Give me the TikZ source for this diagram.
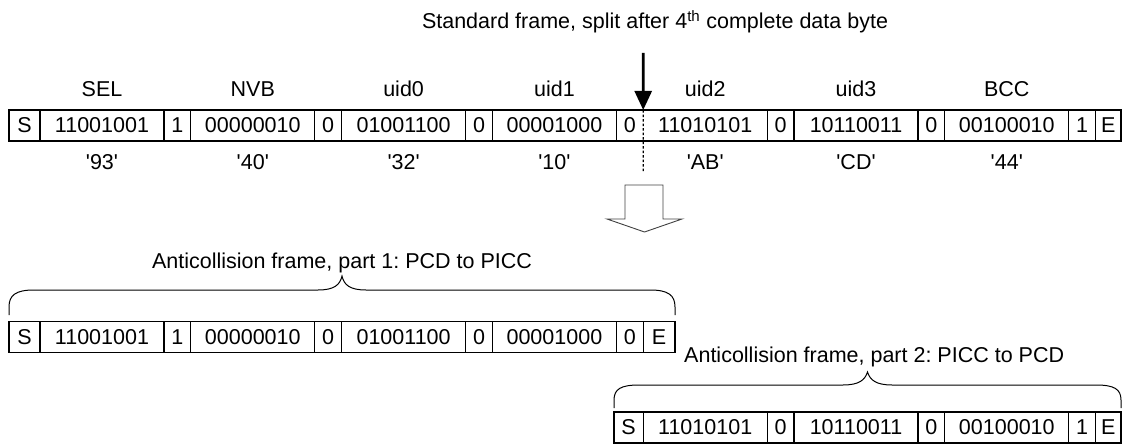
\documentclass[tikz,border=0pt]{standalone}
\usepackage{fontspec}
\setmainfont{Liberation Sans}
\usetikzlibrary{arrows.meta}
\newcommand{\figfont}{\fontsize{21.5}{25}\selectfont}
\newcommand{\frcell}[6][cellbox]{\node[#1, minimum width={#4pt-#3pt}] (#2) at ({(#3+#4)/2},#5) {#6};}
\newcommand{\hx}[1]{\textquotesingle#1\textquotesingle}
\frenchspacing
\begin{document}
\begin{tikzpicture}[x=1pt,y=-1pt,
  cellbox/.style={draw, line width=1.2pt, minimum height=31pt, inner sep=0pt, outer sep=0pt, font=\figfont},
  cellfree/.style={minimum height=31pt, inner sep=0pt, outer sep=0pt, font=\figfont},
  rowline/.style={line width=1.2pt},
  splitline/.style={line width=1.2pt, dash pattern=on 2.5pt off 2pt},
  lbl/.style={font=\figfont, inner sep=0pt, anchor=base},
  bigarrow/.style={line width=2.6pt, -{Triangle[width=17pt,length=19pt]}},
  blockarrow/.style={line width=0.9pt, draw=black!75},
  bracel/.style={line width=1pt}]
\useasboundingbox (0,0) rectangle (1125,444);

% ---------- standard frame ----------
\frcell[cellfree]{tS}{9}{40}{125.5}{S}
\frcell[cellfree]{tb1}{40}{164}{125.5}{11001001}
\frcell[cellfree]{tp1}{164}{190.8}{125.5}{1}
\frcell[cellfree]{tb2}{190.8}{314.8}{125.5}{00000010}
\frcell[cellfree]{tp2}{314.8}{341.6}{125.5}{0}
\frcell[cellfree]{tb3}{341.6}{465.6}{125.5}{01001100}
\frcell[cellfree]{tp3}{465.6}{492.4}{125.5}{0}
\frcell[cellfree]{tb4}{492.4}{616.4}{125.5}{00001000}
\frcell[cellfree]{tp4}{616.4}{643.2}{125.5}{0}
\frcell[cellfree]{tb5}{643.2}{767.2}{125.5}{11010101}
\frcell[cellfree]{tp5}{767.2}{794}{125.5}{0}
\frcell[cellfree]{tb6}{794}{918}{125.5}{10110011}
\frcell[cellfree]{tp6}{918}{944.8}{125.5}{0}
\frcell[cellfree]{tb7}{944.8}{1068.8}{125.5}{00100010}
\frcell[cellfree]{tp7}{1068.8}{1095.6}{125.5}{1}
\frcell[cellfree]{tE}{1095.6}{1121}{125.5}{E}

\draw[rowline] (tS.north west) rectangle (tE.south east);
\foreach \n in {tS,tb1,tp1,tb2,tp2,tb3,tp3,tb4,tb5,tp5,tb6,tp6,tb7,tp7}
  \draw[rowline] (\n.north east) -- (\n.south east);

\coordinate (splitend) at (643.2,172);
\draw[splitline] (tp4.north east) -- (tp4.south east) -- (splitend);

\coordinate (arrtop) at (643.2,53);
\draw[bigarrow] (arrtop) -- (tp4.north east);

\node[lbl] (title) at (655,29) {Standard frame, split after 4\textsuperscript{th} complete data byte};

\coordinate (namerow) at (0,96);
\coordinate (hexrow) at (0,169);
\node[lbl] (nSEL) at (tb1 |- namerow) {SEL};
\node[lbl] (nNVB) at (tb2 |- namerow) {NVB};
\node[lbl] (nu0) at (tb3 |- namerow) {uid0};
\node[lbl] (nu1) at (tb4 |- namerow) {uid1};
\node[lbl] (nu2) at (tb5 |- namerow) {uid2};
\node[lbl] (nu3) at (tb6 |- namerow) {uid3};
\node[lbl] (nBCC) at (tb7 |- namerow) {BCC};

\node[lbl] (h1) at (tb1 |- hexrow) {\hx{93}};
\node[lbl] (h2) at (tb2 |- hexrow) {\hx{40}};
\node[lbl] (h3) at (tb3 |- hexrow) {\hx{32}};
\node[lbl] (h4) at (tb4 |- hexrow) {\hx{10}};
\node[lbl] (h5) at (tb5 |- hexrow) {\hx{AB}};
\node[lbl] (h6) at (tb6 |- hexrow) {\hx{CD}};
\node[lbl] (h7) at (tb7 |- hexrow) {\hx{44}};

% ---------- block arrow ----------
\draw[blockarrow] (625,185) -- (663,185) -- (663,219) -- (682,219) -- (644.5,232) -- (607,219) -- (625,219) -- cycle;

% ---------- part 1 ----------
\node[lbl] (lab1) at (342,268) {Anticollision frame, part 1: PCD to PICC};
\draw[bracel] (9,315) -- (9,307) .. controls (9,295) and (16,290) .. (34,290) -- (318,290)
  .. controls (334,290) and (340,285) .. (342,276) .. controls (344,285) and (350,290) .. (366,290)
  -- (650,290) .. controls (668,290) and (675,295) .. (675,307) -- (675,315);

\frcell{pS}{9}{40}{337}{S}
\frcell{pb1}{40}{164}{337}{11001001}
\frcell{pp1}{164}{190.8}{337}{1}
\frcell{pb2}{190.8}{314.8}{337}{00000010}
\frcell{pp2}{314.8}{341.6}{337}{0}
\frcell{pb3}{341.6}{465.6}{337}{01001100}
\frcell{pp3}{465.6}{492.4}{337}{0}
\frcell{pb4}{492.4}{616.4}{337}{00001000}
\frcell{pp4}{616.4}{643.2}{337}{0}
\frcell{pE}{643.2}{675}{337}{E}

% ---------- part 2 ----------
\node[lbl, anchor=base west] (lab2) at (684,362) {Anticollision frame, part 2: PICC to PCD};
\draw[bracel] (614,408) -- (614,400) .. controls (614,389) and (621,385) .. (639,385) -- (843,385)
  .. controls (859,385) and (865,380) .. (867.5,372) .. controls (870,380) and (876,385) .. (892,385)
  -- (1096,385) .. controls (1114,385) and (1121,389) .. (1121,400) -- (1121,408);

\frcell{qS}{614}{643.2}{427.5}{S}
\frcell{qb1}{643.2}{767.2}{427.5}{11010101}
\frcell{qp1}{767.2}{794}{427.5}{0}
\frcell{qb2}{794}{918}{427.5}{10110011}
\frcell{qp2}{918}{944.8}{427.5}{0}
\frcell{qb3}{944.8}{1068.8}{427.5}{00100010}
\frcell{qp3}{1068.8}{1095.6}{427.5}{1}
\frcell{qE}{1095.6}{1121}{427.5}{E}
\end{tikzpicture}
\end{document}
